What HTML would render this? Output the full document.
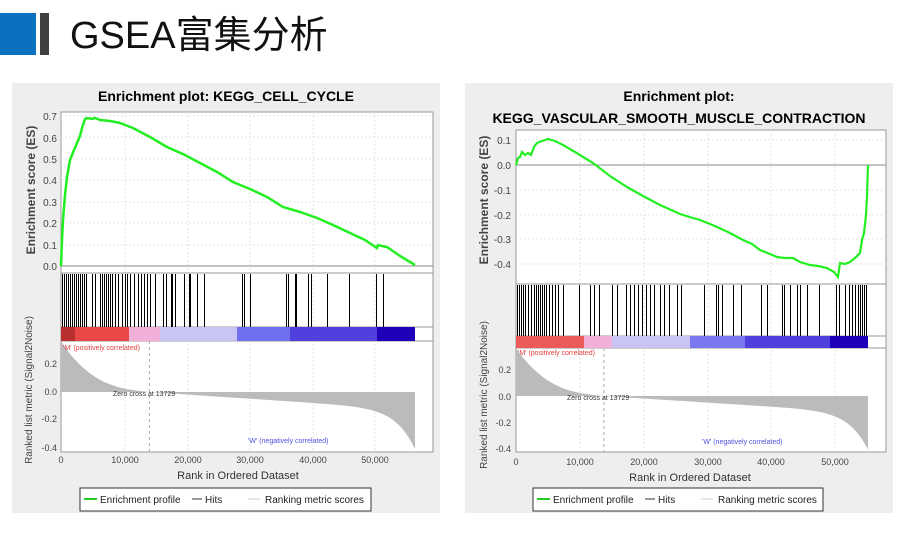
<!DOCTYPE html><html><head><meta charset="utf-8"><style>
body{margin:0;width:900px;height:542px;background:#fff;overflow:hidden;font-family:"Liberation Sans",Arial,sans-serif}
svg{position:absolute;left:0;top:0}
</style></head><body>
<svg id="s" width="900" height="542" xmlns="http://www.w3.org/2000/svg" font-family="Liberation Sans, Arial, sans-serif">
<rect x="0" y="13" width="36" height="42" fill="#0a70c0"/>
<rect x="40" y="13" width="9" height="42" fill="#404040"/>
<text x="70" y="48" font-size="38" font-family="Liberation Sans, Noto Sans CJK SC, sans-serif" fill="#111">GSEA富集分析</text>
<rect x="12" y="83" width="428" height="430" fill="#eeeeee"/>
<rect x="465" y="83" width="428" height="430" fill="#eeeeee"/>
<text x="226" y="101" font-size="14" font-weight="bold" text-anchor="middle">Enrichment plot: KEGG_CELL_CYCLE</text>
<text x="679" y="101" font-size="14" font-weight="bold" text-anchor="middle">Enrichment plot:</text>
<text x="679" y="123" font-size="14" font-weight="bold" text-anchor="middle">KEGG_VASCULAR_SMOOTH_MUSCLE_CONTRACTION</text>
<g id="g"></g>
<g font-size="10" fill="#444" text-anchor="end">
<text x="57" y="120">0.7</text><text x="57" y="142">0.6</text><text x="57" y="163">0.5</text><text x="57" y="184">0.4</text><text x="57" y="206">0.3</text><text x="57" y="227">0.2</text><text x="57" y="249">0.1</text><text x="57" y="270">0.0</text>
<text x="57" y="367" font-size="9">0.2</text><text x="57" y="395" font-size="9">0.0</text><text x="57" y="422" font-size="9">-0.2</text><text x="57" y="451" font-size="9">-0.4</text>
<text x="511" y="144">0.1</text><text x="511" y="169">0.0</text><text x="511" y="194">-0.1</text><text x="511" y="219">-0.2</text><text x="511" y="243">-0.3</text><text x="511" y="268">-0.4</text>
<text x="511" y="373" font-size="9">0.2</text><text x="511" y="400" font-size="9">0.0</text><text x="511" y="426" font-size="9">-0.2</text><text x="511" y="452" font-size="9">-0.4</text>
</g>
<g font-size="9" fill="#444" text-anchor="middle">
<text x="61" y="463">0</text><text x="125" y="463">10,000</text><text x="188" y="463">20,000</text><text x="250" y="463">30,000</text><text x="313" y="463">40,000</text><text x="375" y="463">50,000</text>
<text x="516" y="465">0</text><text x="580" y="465">10,000</text><text x="644" y="465">20,000</text><text x="708" y="465">30,000</text><text x="771" y="465">40,000</text><text x="835" y="465">50,000</text>
</g>
<text x="238" y="479" font-size="11" text-anchor="middle" fill="#333">Rank in Ordered Dataset</text>
<text x="690" y="481" font-size="11" text-anchor="middle" fill="#333">Rank in Ordered Dataset</text>
<text transform="translate(35,190) rotate(-90)" font-size="12" font-weight="bold" fill="#444" text-anchor="middle">Enrichment score (ES)</text>
<text transform="translate(488,200) rotate(-90)" font-size="12" font-weight="bold" fill="#444" text-anchor="middle">Enrichment score (ES)</text>
<text transform="translate(32,390) rotate(-90)" font-size="10" fill="#444" text-anchor="middle">Ranked list metric (Signal2Noise)</text>
<text transform="translate(487,395) rotate(-90)" font-size="10" fill="#444" text-anchor="middle">Ranked list metric (Signal2Noise)</text>
<g font-size="7">
<text x="63" y="350" fill="#e04040">'M' (positively correlated)</text>
<text x="518" y="355" fill="#e04040">'M' (positively correlated)</text>
<text x="248" y="443" fill="#5050e0">'W' (negatively correlated)</text>
<text x="702" y="444" fill="#5050e0">'W' (negatively correlated)</text>
<text x="113" y="396" fill="#333">Zero cross at 13729</text>
<text x="567" y="400" fill="#333">Zero cross at 13729</text>
</g>
<g font-size="10" fill="#222">
<rect x="80" y="488" width="291" height="23" fill="#fff" stroke="#333"/>
<line x1="84" y1="499" x2="97" y2="499" stroke="#22cc22" stroke-width="2"/><text x="100" y="503">Enrichment profile</text>
<line x1="192" y1="499" x2="202" y2="499" stroke="#333"/><text x="205" y="503">Hits</text>
<line x1="248" y1="499" x2="260" y2="499" stroke="#ccc"/><text x="265" y="503">Ranking metric scores</text>
<rect x="533" y="488" width="290" height="23" fill="#fff" stroke="#333"/>
<line x1="537" y1="499" x2="550" y2="499" stroke="#22cc22" stroke-width="2"/><text x="553" y="503">Enrichment profile</text>
<line x1="645" y1="499" x2="655" y2="499" stroke="#333"/><text x="658" y="503">Hits</text>
<line x1="701" y1="499" x2="713" y2="499" stroke="#ccc"/><text x="718" y="503">Ranking metric scores</text>
</g>
</svg>
<script>
var NS="http://www.w3.org/2000/svg",g=document.getElementById("g");
function el(t,a){var e=document.createElementNS(NS,t);for(var k in a)e.setAttribute(k,a[k]);g.appendChild(e);return e;}
function panel(P){
 var x0=P.x0,x1=P.x1,xe=P.xe;
 el("rect",{x:x0,y:P.top,width:x1-x0,height:P.bot-P.top,fill:"#fff",stroke:"#999"});
 P.xt.forEach(function(x){el("line",{x1:x,y1:P.top,x2:x,y2:P.bot,stroke:"#e6e6e6","stroke-dasharray":"2,2"});});
 P.yt.forEach(function(y){el("line",{x1:x0,y1:y,x2:x1,y2:y,stroke:"#e6e6e6","stroke-dasharray":"2,2"});});
 el("line",{x1:x0,y1:P.esb,x2:x1,y2:P.esb,stroke:"#999"});
 el("line",{x1:x0,y1:P.hb,x2:x1,y2:P.hb,stroke:"#999"});
 el("line",{x1:x0,y1:P.cb,x2:x1,y2:P.cb,stroke:"#999"});
 el("line",{x1:x0,y1:P.zero,x2:x1,y2:P.zero,stroke:"#888"});
 var cols=P.cols;for(var i=0;i<cols.length;i++){var c=cols[i];el("rect",{x:c[0],y:P.hb,width:c[1]-c[0],height:P.cb-P.hb,fill:c[2]});}
 P.hits.forEach(function(h){var x=Math.round(h)+0.5;el("line",{x1:x,y1:P.esb+1,x2:x,y2:P.hb,stroke:"#000","stroke-width":1,"shape-rendering":"crispEdges"});});
 var zx=x0+(xe-x0)*13729/55000,d="M"+x0+" "+P.m0;
 for(var k=0;k<=120;k++){var t=k/120,v;
  if(t<0.25)v=0.3*Math.pow(1-t/0.25,3)+(0.25-t)*0.25; else v=-(t-0.25)*0.17-0.28*Math.pow((t-0.25)/0.75,14);
  d+=" L"+(x0+(xe-x0)*t).toFixed(1)+" "+(P.m0-v*P.ms).toFixed(1);}
 d+=" L"+xe+" "+P.m0+" Z";
 el("path",{d:d,fill:"#bbbbbb"});
 el("line",{x1:zx,y1:P.cb,x2:zx,y2:P.bot,stroke:"#aaa","stroke-dasharray":"3,3"});
 el("polyline",{points:P.es,fill:"none",stroke:"#22ee22","stroke-width":P.sw||2.5});
}
function hitsFrom(list){var r=[];list.forEach(function(a){if(a.length==3){for(var x=a[0];x<=a[1];x+=a[2])r.push(x);}else r.push(a[0]);});return r;}
panel({x0:61,x1:433,xe:415,top:112,bot:452,esb:273,hb:327,cb:341,zero:266,m0:392,ms:140,
 xt:[125,188,250,313,375],yt:[116,137,159,180,202,223,245],
 cols:[[61,129,"#e84848"],[61,75,"#b83030"],[129,160,"#f0b0d8"],[160,237,"#c8c4f4"],[237,290,"#7070ee"],[290,377,"#5040dd"],[377,415,"#2000b8"]],
 hits:hitsFrom([[62,86,2],[92],[95],[100,112,2],[115],[118],[122],[125],[127],[130],[134],[138],[141],[144],[147],[150],[155],[163],[166],[171],[172],[175],[184],[189],[190],[197],[204],[242],[244],[250],[286],[288],[295],[296],[308],[311],[327],[349],[376],[383]]),
 es:"61,266 62,240 63,220 65,195 67,177 70,160 74,150 77,143 80,136 82,128 85,119 87,118 92,119 95,118 100,120 110,121 120,123 133,128 150,137 167,147 185,155 200,163 217,172 233,182 250,189 267,197 283,207 300,212 317,218 333,225 350,233 365,240 377,248 378,245 382,246 387,247 400,256 415,265"});
panel({x0:516,x1:886,xe:868,top:130,bot:452,esb:284,hb:336,cb:348,zero:165,m0:396,ms:132,sw:2.2,
 xt:[580,644,708,771,835],yt:[140,190,215,239,264],
 cols:[[516,584,"#ec5a5a"],[584,612,"#f0b0d8"],[612,690,"#c8c4f4"],[690,745,"#7a78f0"],[745,830,"#5040dd"],[830,868,"#2000b8"]],
 hits:hitsFrom([[517,523,2],[525],[528],[531],[534,546,2],[549],[552],[555],[558],[563],[579],[590],[594],[599],[612],[617],[626],[630],[634],[638],[642],[646],[650],[654],[660],[664],[669],[677],[681],[704],[716],[718],[722],[733],[741],[761],[767],[782],[784],[790],[797],[800],[807],[819],[836],[839],[845],[849],[852],[855],[858,867,2]]),
 es:"516,165 518,158 520,157 522,152 525,155 528,153 531,155 534,147 537,143 542,141 548,139 555,141 563,145 575,152 593,163 610,176 627,187 643,196 660,205 680,214 693,218 700,220 710,224 717,227 730,233 743,240 752,244 760,250 770,254 777,257 785,258 793,258 800,262 810,265 818,266 827,268 834,272 838,277 840,263 845,264 850,262 855,258 860,253 862,240 864,233 866,215 867,197 868,165"});
</script>
</body></html>
